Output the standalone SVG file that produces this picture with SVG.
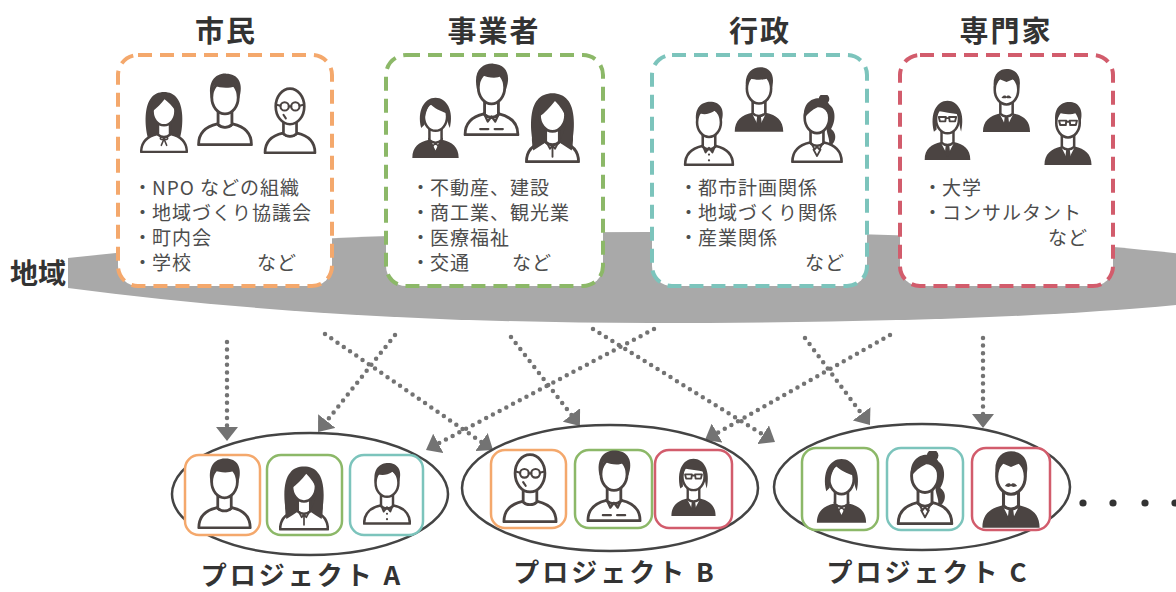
<svg xmlns="http://www.w3.org/2000/svg" xmlns:xlink="http://www.w3.org/1999/xlink" width="1176" height="592" viewBox="0 0 1176 592">
  <style>
    text { font-family: "Noto Sans CJK JP", "Noto Sans CJK SC", sans-serif; }
    .ttl { font-size: 29px; font-weight: 700; fill: #333; text-anchor: middle; letter-spacing: 2px; }
    .area { font-size: 28px; font-weight: 700; fill: #333; }
    .li { font-size: 19px; fill: #4d4d4d; letter-spacing: 1px; }
    .pj { font-size: 26px; font-weight: 700; fill: #333; text-anchor: middle; letter-spacing: 3px; }
    .grp { fill: #fff; stroke-width: 4; stroke-dasharray: 14 8; }
    .card { fill: #fff; stroke-width: 2.5; }
    .c-or { stroke: #f4a86c; }
    .c-gr { stroke: #8cb868; }
    .c-tl { stroke: #7cc4bc; }
    .c-rd { stroke: #d25c6c; }
    .proj { fill: none; stroke: #444; stroke-width: 2.5; }
    .flow { fill: none; stroke: #737373; stroke-width: 4.5; stroke-linecap: round; stroke-dasharray: 0 7.6; marker-end: url(#head); }
    .ol { fill: #fff; stroke: #4b4442; stroke-width: 4.5; stroke-linejoin: round; stroke-linecap: round; }
    .dk { fill: #4b4442; }
    .ln { fill: none; stroke: #4b4442; stroke-width: 3.5; stroke-linecap: round; stroke-linejoin: round; }
    .wf { fill: #fff; }
  </style>
  <defs>
    <marker id="head" viewBox="0 0 14 22" refX="2" refY="11" markerWidth="14" markerHeight="22" markerUnits="userSpaceOnUse" orient="auto">
      <path d="M0,0 L14,11 L0,22 Z" fill="#737373"/>
    </marker>
    <!-- shared body parts, 100x125 unit space -->
    <path id="bd" d="M8,122 C8,102 20,93 38,89 C44,95 56,95 62,89 C80,93 92,102 92,122 Z"/>
    <path id="nk" d="M39,66 L39,90 C45,96 55,96 61,90 L61,66 Z"/>
    <ellipse id="fc" cx="50" cy="47" rx="21" ry="26"/>
    <path id="shirt" d="M37,88 L50,114 L63,88 Z"/>
    <path id="tie" d="M47,93 L53,93 L55,110 L50,116 L45,110 Z"/>
    <path id="hairS" d="M28,48 C23,22 37,10 52,10 C69,10 79,23 72,48 C71,39 68,32 65,29 C56,33 42,32 34,29 C31,35 29,41 28,48 Z"/>

    <!-- casual man -->
    <symbol id="p-man" viewBox="6 8 88 116">
      <use href="#bd" class="ol"/>
      <use href="#nk" class="ol"/>
      <use href="#fc" class="ol"/>
      <path class="dk" d="M28,50 C21,22 35,8 52,9 C70,9 81,23 72,50 C71,40 69,33 66,29 C56,33 42,32 33,28 C30,34 29,42 28,50 Z"/>
    </symbol>

    <!-- woman, long hair, ribbon -->
    <symbol id="p-wom1" viewBox="6 8 88 116">
      <path class="dk" d="M21,98 C13,70 15,36 26,23 C36,8 64,8 74,23 C85,36 87,70 79,98 Z"/>
      <use href="#bd" class="ol"/>
      <use href="#nk" class="ol"/>
      <use href="#fc" class="ol"/>
      <path class="dk" d="M28,48 C25,25 37,15 50,15 C64,15 75,26 72,48 C66,37 57,30 51,25 C45,33 37,41 28,48 Z"/>
      <path class="ln" style="stroke-width:2.8" d="M50,97 C43,91 39,101 50,99 C61,101 57,91 50,97 M50,98 L45,110 M50,98 L55,110"/>
    </symbol>

    <!-- bald man with glasses -->
    <symbol id="p-bald" viewBox="6 8 88 116">
      <use href="#bd" class="ol"/>
      <use href="#nk" class="ol"/>
      <ellipse class="ol" cx="50" cy="44" rx="24" ry="30"/>
      <circle class="ln" cx="41" cy="44" r="7"/>
      <circle class="ln" cx="59" cy="44" r="7"/>
      <path class="ln" d="M48,44 L52,44 M34,43 L27,41 M66,43 L73,41 M39,58 L43,64"/>
    </symbol>

    <!-- business woman, bob hair, dark jacket -->
    <symbol id="p-bw" viewBox="6 8 88 116">
      <use href="#bd" class="dk"/>
      <path class="ol" style="stroke-width:3" d="M38,87 L50,112 L62,87 Z"/>
      <path class="ln" style="stroke-width:2.5" d="M40,89 L45,101 L50,95 L55,101 L60,89"/>
      <use href="#nk" class="ol"/>
      <use href="#fc" class="ol"/>
      <path class="dk" d="M24,68 C16,36 30,13 50,13 C70,13 84,36 76,68 C72,60 71,50 70,41 C60,38 47,32 40,24 C35,33 30,43 30,62 Z"/>
    </symbol>

    <!-- man, collar shirt -->
    <symbol id="p-col" viewBox="6 8 88 116">
      <use href="#bd" class="ol"/>
      <use href="#nk" class="ol"/>
      <use href="#fc" class="ol"/>
      <path class="dk" d="M27,50 C20,20 36,8 53,9 C72,10 82,25 73,50 C71,40 70,33 66,28 C58,34 44,31 34,27 C31,34 29,42 27,50 Z"/>
      <path class="ln" d="M38,88 L44,101 L50,93 L56,101 L62,88 M32,113 L45,113 M55,113 L68,113"/>
    </symbol>

    <!-- woman, long hair, collar blouse -->
    <symbol id="p-wom2" viewBox="6 8 88 116">
      <path class="dk" d="M21,100 C12,70 14,34 26,22 C36,8 64,8 74,22 C86,34 88,70 79,100 Z"/>
      <use href="#bd" class="ol"/>
      <use href="#nk" class="ol"/>
      <use href="#fc" class="ol"/>
      <path class="dk" d="M28,50 C24,23 39,13 52,13 C68,13 77,28 72,50 C66,37 59,29 54,24 C46,34 38,43 28,50 Z"/>
      <path class="dk" d="M19,104 C14,82 18,58 27,46 C28,64 32,80 40,90 C33,95 26,99 19,104 Z"/>
      <path class="dk" d="M81,104 C86,82 82,58 73,46 C72,64 68,80 60,90 C67,95 74,99 81,104 Z"/>
      <path class="ln" style="stroke-width:3" d="M40,90 L46,101 L50,95 L54,101 L60,90 M50,96 L50,114"/>
    </symbol>

    <!-- man, short hair, shirt with buttons -->
    <symbol id="p-man2" viewBox="6 8 88 116">
      <use href="#bd" class="ol"/>
      <use href="#nk" class="ol"/>
      <use href="#fc" class="ol"/>
      <path class="dk" d="M28,48 C23,21 38,11 52,11 C69,11 79,24 72,46 C70,36 65,30 60,27 C50,34 39,34 32,31 C30,37 29,42 28,48 Z"/>
      <path class="ln" d="M39,88 L44,100 L50,92 L56,100 L61,88"/>
      <circle class="dk" cx="50" cy="104" r="2"/>
      <circle class="dk" cx="50" cy="114" r="2"/>
    </symbol>

    <!-- man, dark suit and tie -->
    <symbol id="p-suit" viewBox="6 8 88 116">
      <use href="#bd" class="dk"/>
      <use href="#shirt" class="wf"/>
      <use href="#tie" class="dk"/>
      <use href="#nk" class="ol"/>
      <use href="#fc" class="ol"/>
      <use href="#hairS" class="dk"/>
    </symbol>

    <!-- woman, hair tied up, blouse -->
    <symbol id="p-pony" viewBox="6 8 88 116">
      <path class="dk" d="M64,22 C82,24 84,50 74,66 C86,74 82,92 70,96 C74,82 64,74 67,60 Z"/>
      <use href="#bd" class="ol"/>
      <use href="#nk" class="ol"/>
      <use href="#fc" class="ol"/>
      <circle class="dk" cx="62" cy="15" r="9"/>
      <path class="dk" d="M28,48 C25,22 42,12 56,14 C72,17 77,32 72,48 C68,36 61,28 51,29 C42,33 34,40 28,48 Z"/>
      <path class="ln" style="stroke-width:3" d="M40,90 L46,101 L50,96 L54,101 L60,90 M44,101 L50,112 L56,101"/>
    </symbol>

    <!-- woman with glasses, dark suit -->
    <symbol id="p-wg" viewBox="6 8 88 116">
      <use href="#bd" class="dk"/>
      <use href="#shirt" class="wf"/>
      <use href="#tie" class="dk"/>
      <use href="#nk" class="ol"/>
      <use href="#fc" class="ol"/>
      <path class="dk" d="M25,70 C17,36 30,13 50,13 C70,13 83,36 75,70 C72,60 71,48 70,38 C58,36 44,34 32,32 C30,42 29,56 30,66 Z"/>
      <path class="ln" style="stroke-width:3.5" d="M34,43 L47,43 L46,51 L36,51 Z M53,43 L66,43 L64,51 L54,51 Z M47,45 L53,45"/>
    </symbol>

    <!-- man with moustache, dark suit -->
    <symbol id="p-must" viewBox="6 8 88 116">
      <use href="#bd" class="dk"/>
      <use href="#shirt" class="wf"/>
      <use href="#tie" class="dk"/>
      <use href="#nk" class="ol"/>
      <use href="#fc" class="ol"/>
      <path class="dk" d="M28,48 C23,20 37,10 50,10 C66,10 79,22 72,48 C70,38 66,31 62,28 L50,33 L38,28 C33,33 30,40 28,48 Z"/>
      <path class="dk" d="M41,61 C45,55 49,57 50,59 C51,57 55,55 59,61 C55,63 51,62 50,61 C49,62 45,63 41,61 Z"/>
    </symbol>

    <!-- man with glasses, dark suit -->
    <symbol id="p-mg" viewBox="6 8 88 116">
      <use href="#bd" class="dk"/>
      <use href="#shirt" class="wf"/>
      <use href="#tie" class="dk"/>
      <use href="#nk" class="ol"/>
      <use href="#fc" class="ol"/>
      <use href="#hairS" class="dk"/>
      <path class="ln" style="stroke-width:3.5" d="M34,43 L47,43 L46,51 L36,51 Z M53,43 L66,43 L64,51 L54,51 Z M47,45 L53,45"/>
    </symbol>
  </defs>

  <rect width="1176" height="592" fill="#fff"/>

  <!-- regional band -->
  <g id="region">
    <path d="M68,258 C250,238 450,232 650,232 C900,232 1100,240 1240,262 L1240,298 C1100,316 900,323 650,323 C450,323 250,312 68,288 Z" fill="#a9a9a9"/>
    <text class="area" x="10" y="284">地域</text>
  </g>

  <!-- stakeholder groups -->
  <g id="citizens">
    <text class="ttl" x="226" y="42">市民</text>
    <rect class="grp c-or" x="118" y="55" width="214" height="231" rx="20"/>
    <use href="#p-wom1" x="140" y="90" width="48" height="63"/>
    <use href="#p-man" x="196" y="73" width="58" height="73"/>
    <use href="#p-bald" x="259" y="85" width="62" height="69"/>
    <text class="li" x="133" y="195">・<tspan x="152">NPO などの組織</tspan></text>
    <text class="li" x="133" y="220">・<tspan x="152">地域づくり協議会</tspan></text>
    <text class="li" x="133" y="245">・<tspan x="152">町内会</tspan></text>
    <text class="li" x="133" y="270">・<tspan x="152">学校</tspan><tspan x="257">など</tspan></text>
  </g>

  <g id="business">
    <text class="ttl" x="494" y="42">事業者</text>
    <rect class="grp c-gr" x="386" y="55" width="217" height="231" rx="20"/>
    <use href="#p-bw" x="411" y="95" width="49" height="64"/>
    <use href="#p-col" x="461" y="63" width="61" height="73"/>
    <use href="#p-wom2" x="523" y="91" width="59" height="72"/>
    <text class="li" x="411" y="195">・<tspan x="430">不動産、建設</tspan></text>
    <text class="li" x="411" y="220">・<tspan x="430">商工業、観光業</tspan></text>
    <text class="li" x="411" y="245">・<tspan x="430">医療福祉</tspan></text>
    <text class="li" x="411" y="270">・<tspan x="430">交通</tspan><tspan x="512">など</tspan></text>
  </g>

  <g id="government">
    <text class="ttl" x="760" y="42">行政</text>
    <rect class="grp c-tl" x="652" y="55" width="215" height="231" rx="20"/>
    <use href="#p-man2" x="683" y="100" width="52" height="66"/>
    <use href="#p-suit" x="731" y="66" width="56" height="67"/>
    <use href="#p-pony" x="790" y="95" width="54" height="68"/>
    <text class="li" x="679" y="195">・<tspan x="698">都市計画関係</tspan></text>
    <text class="li" x="679" y="220">・<tspan x="698">地域づくり関係</tspan></text>
    <text class="li" x="679" y="245">・<tspan x="698">産業関係</tspan></text>
    <text class="li" x="805" y="270">など</text>
  </g>

  <g id="experts">
    <text class="ttl" x="1006" y="42">専門家</text>
    <rect class="grp c-rd" x="900" y="55" width="213" height="231" rx="20"/>
    <use href="#p-wg" x="921" y="98" width="53" height="63"/>
    <use href="#p-must" x="981" y="68" width="51" height="65"/>
    <use href="#p-mg" x="1041" y="101" width="54" height="65"/>
    <text class="li" x="923" y="195">・<tspan x="942">大学</tspan></text>
    <text class="li" x="923" y="220">・<tspan x="942">コンサルタント</tspan></text>
    <text class="li" x="1048" y="245">など</text>
  </g>

  <!-- participation flows -->
  <g id="connectors">
    <path class="flow" d="M227,342 L227,429"/>
    <path class="flow" d="M395,335 L325.5,422.6"/>
    <path class="flow" d="M325,334 L483.1,443.2"/>
    <path class="flow" d="M654,329 L436.6,444.4"/>
    <path class="flow" d="M511,337 L572.6,416.5"/>
    <path class="flow" d="M593,329 L764.8,435.7"/>
    <path class="flow" d="M890,335 L715.4,434.1"/>
    <path class="flow" d="M805,338 L862.8,415.4"/>
    <path class="flow" d="M983,338 L983,416"/>
  </g>

  <!-- projects -->
  <g id="project-a">
    <ellipse class="proj" cx="310" cy="494" rx="138" ry="61"/>
    <rect class="card c-or" x="185" y="455" width="75" height="80" rx="14"/>
    <rect class="card c-gr" x="267" y="455" width="75" height="80" rx="14"/>
    <rect class="card c-tl" x="350" y="455" width="73" height="80" rx="14"/>
    <use href="#p-man" x="195" y="458" width="59" height="71"/>
    <use href="#p-wom2" x="279" y="463" width="50" height="69"/>
    <use href="#p-man2" x="363" y="461" width="48" height="64"/>
    <text class="pj" x="302" y="585">プロジェクト A</text>
  </g>

  <g id="project-b">
    <ellipse class="proj" cx="610" cy="488" rx="148" ry="63"/>
    <rect class="card c-or" x="491" y="450" width="75" height="78" rx="14"/>
    <rect class="card c-gr" x="575" y="450" width="77" height="78" rx="14"/>
    <rect class="card c-rd" x="655" y="450" width="77" height="78" rx="14"/>
    <use href="#p-bald" x="498" y="451" width="64" height="72"/>
    <use href="#p-col" x="581" y="450" width="66" height="72"/>
    <use href="#p-wg" x="668" y="456" width="51" height="61"/>
    <text class="pj" x="615" y="582">プロジェクト B</text>
  </g>

  <g id="project-c">
    <ellipse class="proj" cx="922" cy="487" rx="148" ry="63"/>
    <rect class="card c-gr" x="802" y="448" width="76" height="82" rx="14"/>
    <rect class="card c-tl" x="887" y="448" width="76" height="82" rx="14"/>
    <rect class="card c-rd" x="972" y="448" width="78" height="82" rx="14"/>
    <use href="#p-bw" x="813" y="456" width="57" height="68"/>
    <use href="#p-pony" x="896" y="451" width="58" height="74"/>
    <use href="#p-must" x="980" y="450" width="62" height="79"/>
    <text class="pj" x="928" y="582">プロジェクト C</text>
    <g fill="#333">
      <circle cx="1083" cy="503" r="3.6"/>
      <circle cx="1113" cy="503" r="3.6"/>
      <circle cx="1145" cy="503" r="3.6"/>
      <circle cx="1175" cy="503" r="3.6"/>
    </g>
  </g>
</svg>
